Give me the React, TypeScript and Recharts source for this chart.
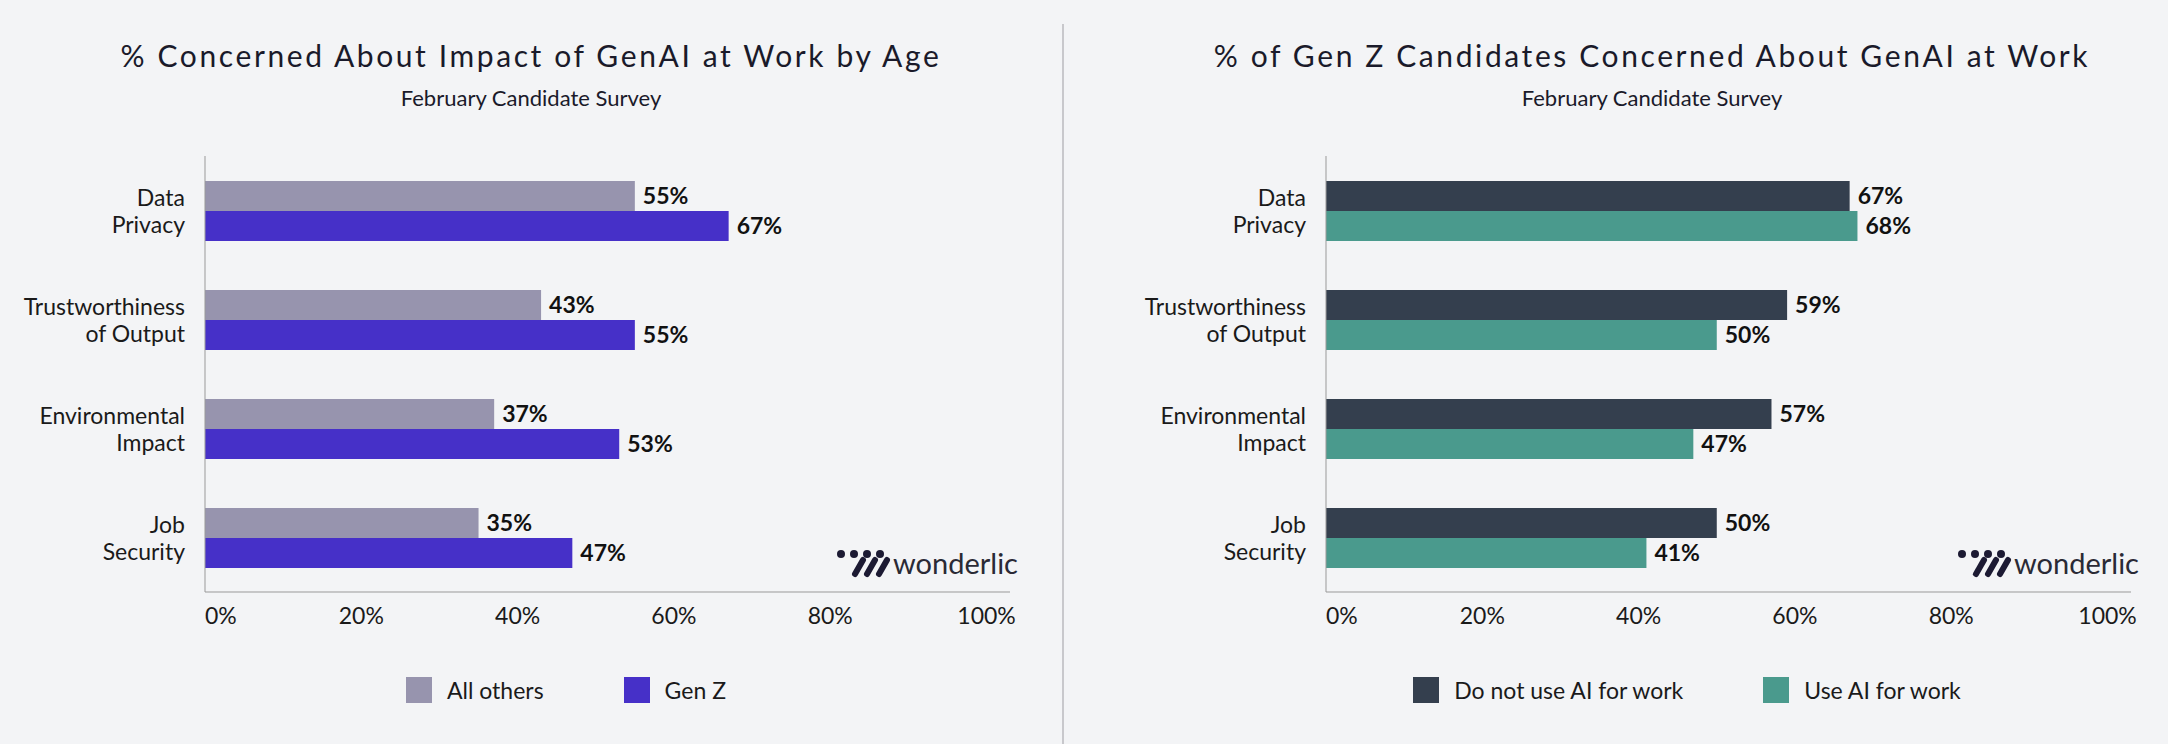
import React from 'react';
import { BarChart, Bar, XAxis, YAxis, LabelList } from 'recharts';

const categories = ['Data\nPrivacy', 'Trustworthiness\nof Output', 'Environmental\nImpact', 'Job\nSecurity'];
const allOthers = [55, 43, 37, 35];
const genZ = [67, 55, 53, 47];
const noAi = [67, 59, 57, 50];
const useAi = [68, 50, 47, 41];
const xTicks = [0, 20, 40, 60, 80, 100];

const FONT = 'Lato, "Open Sans", sans-serif';

const YTick = (props: any) => {
  const { x, y, payload } = props;
  const lines = String(payload.value).split('\n');
  return (
    <text x={x} y={y} textAnchor="end" fontSize={23} fill="#1a1a1a" fontFamily={FONT}>
      {lines.map((l, i) => (
        <tspan key={i} x={x} dy={i === 0 ? -5 : 27}>{l}</tspan>
      ))}
    </text>
  );
};

const XTick = (props: any) => {
  const { x, y, payload } = props;
  const anchor = payload.value === 0 ? 'start' : 'middle';
  return (
    <text x={x} y={y + 24} textAnchor={anchor} fontSize={23} fill="#1a1a1a" fontFamily={FONT}>
      {payload.value}%
    </text>
  );
};

function Logo({ left }: { left: number }) {
  return (
    <div style={{ position: 'absolute', left, top: 545, display: 'flex', alignItems: 'center', fontFamily: FONT, fontSize: 29, color: '#2a2a35' }}>
      <svg width={56} height={30}>
        {[0, 1, 2, 3].map(i => (
          <g key={i}>
            <circle cx={6 + i * 13} cy={6} r={4} fill="#1c1a33" />
            {i > 0 && <line x1={16 + i * 12} y1={12} x2={8 + i * 12} y2={26} stroke="#1c1a33" strokeWidth={6} strokeLinecap="round" />}
          </g>
        ))}
      </svg>
      <span style={{ marginLeft: 2 }}>wonderlic</span>
    </div>
  );
}

function Panel({ left, title, names, colors, a, b }: any) {
  const data = categories.map((c, i) => ({ name: c, a: a[i], b: b[i] }));
  return (
    <div style={{ position: 'absolute', left, top: 0, width: 1062, height: 744 }}>
      <div style={{ position: 'absolute', top: 37, width: 1062, textAlign: 'center', fontFamily: FONT, fontSize: 30, letterSpacing: 2.6, color: '#1a1a2a' }}>{title}</div>
      <div style={{ position: 'absolute', top: 84, width: 1062, textAlign: 'center', fontFamily: FONT, fontSize: 22, color: '#1a1a2a' }}>February Candidate Survey</div>
      <div style={{ position: 'absolute', top: 0, left: 0 }}>
        <BarChart width={1062} height={650} data={data} layout="vertical"
          margin={{ top: 156, right: 52, left: 0, bottom: 0 }} barGap={0} barSize={30}>
          <XAxis type="number" domain={[0, 103]} ticks={xTicks} tick={<XTick />} tickLine={false}
            axisLine={{ stroke: '#999' }} height={58} />
          <YAxis type="category" dataKey="name" width={205} tick={<YTick />} tickLine={false}
            axisLine={{ stroke: '#999' }} tickMargin={14} />
          <Bar dataKey="a" fill={colors[0]} isAnimationActive={false}>
            <LabelList dataKey="a" position="right" formatter={(v: any) => `${v}%`} fill="#111" fontSize={23} fontWeight={700} fontFamily={FONT} offset={8} />
          </Bar>
          <Bar dataKey="b" fill={colors[1]} isAnimationActive={false}>
            <LabelList dataKey="b" position="right" formatter={(v: any) => `${v}%`} fill="#111" fontSize={23} fontWeight={700} fontFamily={FONT} offset={8} />
          </Bar>
        </BarChart>
      </div>
      <Logo left={835} />
      <div style={{ position: 'absolute', top: 676, width: 1062, display: 'flex', justifyContent: 'center', gap: 80, fontFamily: FONT, fontSize: 23, color: '#1a1a1a', paddingLeft: 70, boxSizing: 'border-box' }}>
        {names.map((n: string, i: number) => (
          <div key={n} style={{ display: 'flex', alignItems: 'center' }}>
            <span style={{ width: 26, height: 26, background: colors[i], marginRight: 15, display: 'inline-block' }} />
            {n}
          </div>
        ))}
      </div>
    </div>
  );
}

export default function App() {
  return (
    <div style={{ position: 'absolute', left: 0, top: 0, width: 2168, height: 744, background: '#f3f4f6', overflow: 'hidden' }}>
      <Panel left={0} title="% Concerned About Impact of GenAI at Work by Age" names={['All others', 'Gen Z']}
        colors={['#9794ae', '#4630c8']} a={allOthers} b={genZ} />
      <div style={{ position: 'absolute', left: 1062, top: 24, width: 1.5, height: 720, background: '#c8c8cc' }} />
      <Panel left={1121} title="% of Gen Z Candidates Concerned About GenAI at Work" names={['Do not use AI for work', 'Use AI for work']}
        colors={['#343f4e', '#4a9a8d']} a={noAi} b={useAi} />
    </div>
  );
}
